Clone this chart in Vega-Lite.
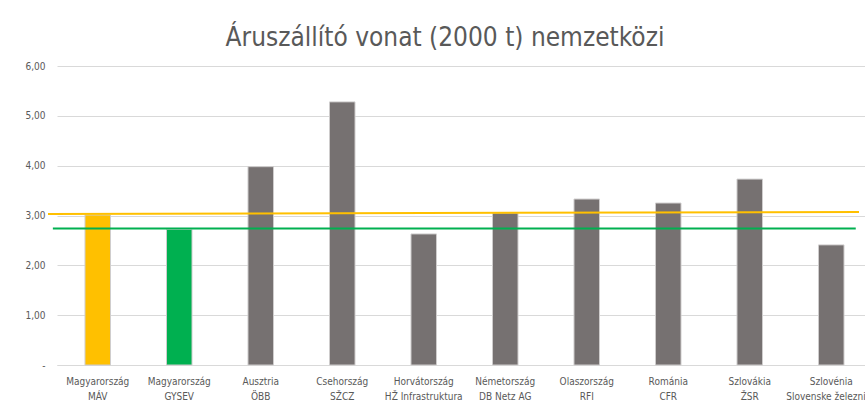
{
  "$schema": "https://vega.github.io/schema/vega-lite/v6.json",
  "width": 808,
  "height": 299,
  "autosize": "none",
  "padding": {"left": 57, "top": 66, "right": 0, "bottom": 43},
  "background": "white",
  "config": {"view": {"stroke": null}},
  "title": {
    "text": "Áruszállító vonat (2000 t) nemzetközi",
    "font": "DejaVu Sans Condensed",
    "fontSize": 26,
    "fontWeight": "normal",
    "color": "#595959",
    "anchor": "middle",
    "frame": "group",
    "dx": -16,
    "offset": 10
  },
  "datasets": {
    "bars": [
      {"cat": "Magyarország|MÁV", "value": 3.01, "grp": "MÁV"},
      {"cat": "Magyarország|GYSEV", "value": 2.72, "grp": "GYSEV"},
      {"cat": "Ausztria|ÖBB", "value": 3.98, "grp": "egyéb"},
      {"cat": "Csehország|SŽCZ", "value": 5.28, "grp": "egyéb"},
      {"cat": "Horvátország|HŽ Infrastruktura", "value": 2.63, "grp": "egyéb"},
      {"cat": "Németország|DB Netz AG", "value": 3.05, "grp": "egyéb"},
      {"cat": "Olaszország|RFI", "value": 3.33, "grp": "egyéb"},
      {"cat": "Románia|CFR", "value": 3.25, "grp": "egyéb"},
      {"cat": "Szlovákia|ŽSR", "value": 3.73, "grp": "egyéb"},
      {"cat": "Szlovénia|Slovenske železnice", "value": 2.41, "grp": "egyéb"}
    ],
    "lines": [
      {"name": "MÁV", "x": 0, "x2": 1, "y": 3.03, "y2": 3.07},
      {"name": "GYSEV", "x": 0.006, "x2": 0.996, "y": 2.74, "y2": 2.74}
    ]
  },
  "layer": [
    {
      "data": {"name": "bars"},
      "mark": {"type": "bar", "stroke": "#cfcdcd", "strokeWidth": 1},
      "encoding": {
        "x": {
          "field": "cat",
          "type": "nominal",
          "sort": null,
          "scale": {"range": [0, 815], "paddingInner": 0.687, "paddingOuter": 0.3435},
          "axis": {
            "title": null,
            "labelAngle": 0,
            "labelExpr": "split(datum.label, '|')",
            "labelFont": "DejaVu Sans Condensed",
            "labelFontSize": 10,
            "labelColor": "#595959",
            "labelLineHeight": 15,
            "labelPadding": 11,
            "labelLimit": 0,
            "ticks": false,
            "domainColor": "#d9d9d9",
            "domainWidth": 1
          }
        },
        "y": {
          "field": "value",
          "type": "quantitative",
          "scale": {"domain": [0, 6], "nice": false},
          "axis": {
            "title": null,
            "values": [0, 1, 2, 3, 4, 5, 6],
            "labelExpr": "datum.value == 0 ? '-' : replace(format(datum.value, '.2f'), '.', ',')",
            "labelFont": "DejaVu Sans Condensed",
            "labelFontSize": 10,
            "labelColor": "#595959",
            "labelPadding": 12,
            "ticks": false,
            "domain": false,
            "gridColor": "#d9d9d9",
            "gridWidth": 1
          }
        },
        "color": {
          "field": "grp",
          "type": "nominal",
          "scale": {"domain": ["MÁV", "GYSEV", "egyéb"], "range": ["#FFC000", "#00B050", "#767171"]},
          "legend": null
        }
      }
    },
    {
      "data": {"name": "lines"},
      "mark": {"type": "rule", "strokeWidth": 2},
      "encoding": {
        "x": {"field": "x", "type": "quantitative", "scale": {"domain": [0, 1], "range": [-9, 802]}, "axis": null},
        "x2": {"field": "x2"},
        "y": {"field": "y", "type": "quantitative"},
        "y2": {"field": "y2"},
        "color": {
          "field": "name",
          "type": "nominal",
          "scale": {"domain": ["MÁV", "GYSEV"], "range": ["#FFC000", "#00B050"]},
          "legend": null
        }
      }
    }
  ],
  "resolve": {"scale": {"x": "independent", "color": "independent"}, "axis": {"x": "independent"}}
}
